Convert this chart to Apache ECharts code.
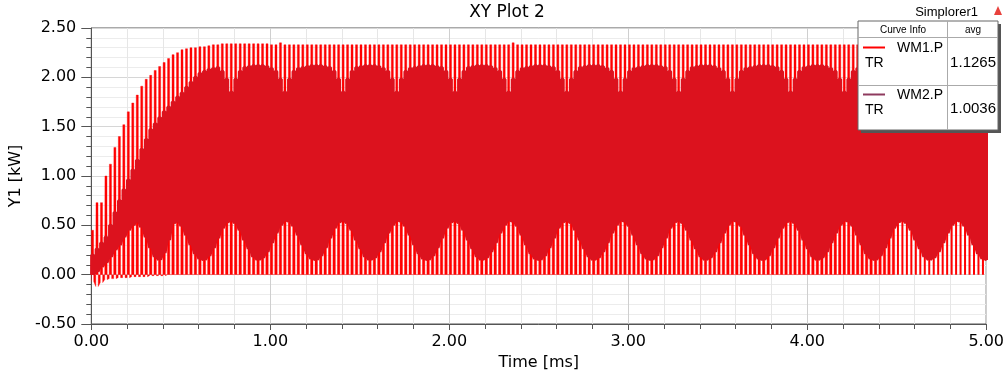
<!DOCTYPE html>
<html>
<head>
<meta charset="utf-8">
<script src="https://cdn.jsdelivr.net/npm/echarts@6/dist/echarts.min.js"></script>
<style>
html, body { margin: 0; padding: 0; background: #fff; }
#chart { width: 1007px; height: 378px; }
</style>
</head>
<body>
<div id="chart"></div>
<script>
// carrier period of the ripple [ms], one entry per cycle in the arrays below
let period = 0.025

// WM1.P peak / valley of each cycle [kW]
let wm1Hi = [
  0.45, 0.73, 0.73, 1.00, 1.12, 1.29, 1.40, 1.52, 1.65, 1.74,
  1.82, 1.91, 1.98, 2.02, 2.07, 2.11, 2.15, 2.19, 2.23, 2.25,
  2.28, 2.29, 2.30, 2.30, 2.31, 2.31, 2.32, 2.33, 2.33, 2.34,
  2.34, 2.34, 2.34, 2.34, 2.34, 2.34, 2.34, 2.34, 2.34, 2.34,
  2.33, 2.33, 2.35, 2.33, 2.33, 2.33, 2.33, 2.33, 2.33, 2.33,
  2.33, 2.33, 2.33, 2.33, 2.33, 2.33, 2.33, 2.33, 2.33, 2.33,
  2.33, 2.33, 2.33, 2.33, 2.33, 2.33, 2.33, 2.33, 2.33, 2.33,
  2.33, 2.33, 2.33, 2.33, 2.33, 2.33, 2.33, 2.33, 2.33, 2.33,
  2.33, 2.33, 2.33, 2.33, 2.33, 2.33, 2.33, 2.33, 2.33, 2.33,
  2.33, 2.33, 2.33, 2.33, 2.35, 2.33, 2.33, 2.33, 2.33, 2.33,
  2.33, 2.33, 2.33, 2.33, 2.33, 2.33, 2.33, 2.33, 2.33, 2.33,
  2.33, 2.33, 2.33, 2.33, 2.33, 2.33, 2.33, 2.33, 2.33, 2.33,
  2.33, 2.33, 2.33, 2.33, 2.33, 2.33, 2.33, 2.33, 2.33, 2.33,
  2.33, 2.33, 2.33, 2.33, 2.33, 2.33, 2.33, 2.33, 2.33, 2.33,
  2.33, 2.33, 2.33, 2.33, 2.33, 2.33, 2.33, 2.33, 2.33, 2.33,
  2.33, 2.33, 2.33, 2.33, 2.33, 2.33, 2.33, 2.33, 2.33, 2.33,
  2.33, 2.33, 2.33, 2.33, 2.33, 2.33, 2.33, 2.33, 2.33, 2.33,
  2.33, 2.33, 2.33, 2.33, 2.33, 2.33, 2.33, 2.33, 2.33, 2.33,
  2.33, 2.33, 2.33, 2.33, 2.33, 2.33, 2.33, 2.33, 2.33, 2.33,
  2.33, 2.33, 2.33, 2.33, 2.33, 2.33, 2.33, 2.33, 2.33, 2.33
]
let wm1Lo = [
  -0.07, -0.12, -0.08, -0.05, -0.04, -0.04, -0.03, -0.03, -0.03, -0.02,
  -0.02, -0.02, -0.02, -0.01, -0.01, -0.01, -0.01, 0, 0, 0,
  0, 0, 0, 0, 0, 0, 0, 0, 0, 0, 0, 0, 0, 0, 0, 0, 0, 0, 0, 0,
  0, 0, 0, 0, 0, 0, 0, 0, 0, 0, 0, 0, 0, 0, 0, 0, 0, 0, 0, 0,
  0, 0, 0, 0, 0, 0, 0, 0, 0, 0, 0, 0, 0, 0, 0, 0, 0, 0, 0, 0,
  0, 0, 0, 0, 0, 0, 0, 0, 0, 0, 0, 0, 0, 0, 0, 0, 0, 0, 0, 0,
  0, 0, 0, 0, 0, 0, 0, 0, 0, 0, 0, 0, 0, 0, 0, 0, 0, 0, 0, 0,
  0, 0, 0, 0, 0, 0, 0, 0, 0, 0, 0, 0, 0, 0, 0, 0, 0, 0, 0, 0,
  0, 0, 0, 0, 0, 0, 0, 0, 0, 0, 0, 0, 0, 0, 0, 0, 0, 0, 0, 0,
  0, 0, 0, 0, 0, 0, 0, 0, 0, 0, 0, 0, 0, 0, 0, 0, 0, 0, 0, 0
]

// WM2.P peak / valley of each cycle [kW]
let wm2Hi = [
  0.20, 0.26, 0.32, 0.38, 0.50, 0.63, 0.75, 0.86, 0.96, 1.06,
  1.16, 1.27, 1.37, 1.47, 1.53, 1.59, 1.65, 1.70, 1.75,
  1.80, 1.84, 1.90, 1.95, 2.00, 2.04, 2.06, 2.08, 2.09, 2.10, 2.06, 1.98, 1.85,
  1.98, 2.06, 2.10, 2.11, 2.12, 2.12, 2.12, 2.11, 2.09, 2.06, 1.98, 1.85,
  1.98, 2.06, 2.09, 2.10, 2.11, 2.12, 2.12, 2.12, 2.11, 2.10, 2.06, 1.98, 1.85,
  1.98, 2.06, 2.10, 2.11, 2.12, 2.12, 2.12, 2.11, 2.09, 2.06, 1.98, 1.85,
  1.98, 2.06, 2.09, 2.10, 2.11, 2.12, 2.12, 2.12, 2.11, 2.10, 2.06, 1.98, 1.85,
  1.98, 2.06, 2.10, 2.11, 2.12, 2.12, 2.12, 2.11, 2.09, 2.06, 1.98, 1.85,
  1.98, 2.06, 2.09, 2.10, 2.11, 2.12, 2.12, 2.12, 2.11, 2.10, 2.06, 1.98, 1.85,
  1.98, 2.06, 2.10, 2.11, 2.12, 2.12, 2.12, 2.11, 2.09, 2.06, 1.98, 1.85,
  1.98, 2.06, 2.09, 2.10, 2.11, 2.12, 2.12, 2.12, 2.11, 2.10, 2.06, 1.98, 1.85,
  1.98, 2.06, 2.10, 2.11, 2.12, 2.12, 2.12, 2.11, 2.09, 2.06, 1.98, 1.85,
  1.98, 2.06, 2.09, 2.10, 2.11, 2.12, 2.12, 2.12, 2.11, 2.10, 2.06, 1.98, 1.85,
  1.98, 2.06, 2.10, 2.11, 2.12, 2.12, 2.12, 2.11, 2.09, 2.06, 1.98, 1.85,
  1.98, 2.06, 2.09, 2.10, 2.11, 2.12, 2.12, 2.12, 2.11, 2.10, 2.06, 1.98, 1.85,
  1.98, 2.06, 2.10, 2.11, 2.12, 2.12, 2.12, 2.11, 2.09, 2.06, 1.98, 1.85,
  1.98, 2.06, 2.09, 2.10, 2.11, 2.12, 2.12, 2.12, 2.11, 2.10, 2.06, 1.98, 1.85,
  1.98, 2.06, 2.10, 2.11, 2.12, 2.12, 2.12, 2.11, 2.09, 2.06, 1.98, 1.85,
  1.98, 2.06, 2.09, 2.10, 2.11, 2.12
]
let wm2Lo = [
  0.00, 0.03, 0.08, 0.12, 0.18, 0.25, 0.30, 0.38, 0.45, 0.50,
  0.54, 0.48, 0.38, 0.27, 0.18, 0.15, 0.22, 0.35, 0.52,
  0.54, 0.49, 0.40, 0.30, 0.21, 0.16, 0.15, 0.19, 0.27, 0.37, 0.47, 0.53, 0.55,
  0.52, 0.45, 0.35, 0.26, 0.18, 0.15, 0.17, 0.23, 0.32, 0.42, 0.50, 0.55,
  0.54, 0.49, 0.40, 0.30, 0.21, 0.16, 0.15, 0.19, 0.27, 0.37, 0.47, 0.53, 0.55,
  0.52, 0.45, 0.35, 0.26, 0.18, 0.15, 0.17, 0.23, 0.32, 0.42, 0.50, 0.55,
  0.54, 0.49, 0.40, 0.30, 0.21, 0.16, 0.15, 0.19, 0.27, 0.37, 0.47, 0.53, 0.55,
  0.52, 0.45, 0.35, 0.26, 0.18, 0.15, 0.17, 0.23, 0.32, 0.42, 0.50, 0.55,
  0.54, 0.49, 0.40, 0.30, 0.21, 0.16, 0.15, 0.19, 0.27, 0.37, 0.47, 0.53, 0.55,
  0.52, 0.45, 0.35, 0.26, 0.18, 0.15, 0.17, 0.23, 0.32, 0.42, 0.50, 0.55,
  0.54, 0.49, 0.40, 0.30, 0.21, 0.16, 0.15, 0.19, 0.27, 0.37, 0.47, 0.53, 0.55,
  0.52, 0.45, 0.35, 0.26, 0.18, 0.15, 0.17, 0.23, 0.32, 0.42, 0.50, 0.55,
  0.54, 0.49, 0.40, 0.30, 0.21, 0.16, 0.15, 0.19, 0.27, 0.37, 0.47, 0.53, 0.55,
  0.52, 0.45, 0.35, 0.26, 0.18, 0.15, 0.17, 0.23, 0.32, 0.42, 0.50, 0.55,
  0.54, 0.49, 0.40, 0.30, 0.21, 0.16, 0.15, 0.19, 0.27, 0.37, 0.47, 0.53, 0.55,
  0.52, 0.45, 0.35, 0.26, 0.18, 0.15, 0.17, 0.23, 0.32, 0.42, 0.50, 0.55,
  0.54, 0.49, 0.40, 0.30, 0.21, 0.16, 0.15, 0.19, 0.27, 0.37, 0.47, 0.53, 0.55,
  0.52, 0.45, 0.35, 0.26, 0.18, 0.15, 0.17, 0.23, 0.32, 0.42, 0.50, 0.55,
  0.54, 0.49, 0.40, 0.30, 0.21, 0.16
]

let seriesNames = ['WM1.P', 'WM2.P']
let seriesAvg = ['1.1265', '1.0036']
let xTicks = [0, 1, 2, 3, 4, 5]
let yTicks = [-0.5, 0, 0.5, 1, 1.5, 2, 2.5]

// WM1: flat-topped pulse each cycle (filled down to 0)
let wm1Data = []
for (let k = 0; k < wm1Hi.length; k++) {
  let t0 = k * period
  wm1Data.push([t0, wm1Lo[k]])
  wm1Data.push([t0 + 0.05 * period, wm1Hi[k]])
  wm1Data.push([t0 + 0.5 * period, wm1Hi[k]])
  wm1Data.push([t0 + 0.55 * period, wm1Lo[k]])
}
// WM2: square-ish pulse, steep edges every half cycle
let wm2Data = []
for (let k = 0; k < wm2Hi.length; k++) {
  let t0 = k * period
  wm2Data.push([t0 + 0.02 * period, wm2Lo[k]])
  wm2Data.push([t0 + 0.04 * period, wm2Hi[k]])
  wm2Data.push([t0 + 0.52 * period, wm2Hi[k]])
  wm2Data.push([t0 + 0.54 * period, wm2Lo[k]])
}

let font = '"DejaVu Sans", sans-serif'
let lfont = '"Liberation Sans", Arial, sans-serif'

let chart = echarts.init(document.getElementById('chart'), null, { renderer: 'canvas' })
chart.setOption({
  animation: false,
  backgroundColor: '#fff',
  grid: {
    left: 87, right: 20, top: 28, bottom: 54,
    show: true, borderColor: '#555', borderWidth: 1, backgroundColor: 'transparent'
  },
  xAxis: {
    type: 'value',
    min: xTicks[0], max: xTicks[xTicks.length - 1], interval: 1,
    name: 'Time [ms]',
    nameLocation: 'middle',
    nameGap: 28,
    nameTextStyle: { fontFamily: font, fontSize: 16, color: '#000' },
    axisLine: { show: true, onZero: false, lineStyle: { color: '#555', width: 1 } },
    axisTick: { show: true, length: 6, lineStyle: { color: '#555' } },
    minorTick: { show: true, splitNumber: 5, length: 5, lineStyle: { color: '#555' } },
    splitLine: { show: true, lineStyle: { color: '#cfcfcf', width: 1 } },
    minorSplitLine: { show: true, lineStyle: { color: '#e6e6e6', width: 1 } },
    axisLabel: {
      margin: 10, fontFamily: font, fontSize: 16, color: '#000',
      formatter: v => v.toFixed(2)
    }
  },
  yAxis: {
    type: 'value',
    min: yTicks[0], max: yTicks[yTicks.length - 1], interval: 0.5,
    name: 'Y1 [kW]',
    nameLocation: 'middle',
    nameGap: 56,
    nameRotate: 90,
    nameTextStyle: { fontFamily: font, fontSize: 16, color: '#000' },
    axisLine: { show: true, onZero: false, lineStyle: { color: '#555', width: 1 } },
    axisTick: { show: true, length: 10, lineStyle: { color: '#555' } },
    minorTick: { show: true, splitNumber: 5, length: 5, lineStyle: { color: '#555' } },
    splitLine: { show: true, lineStyle: { color: '#d6d6d6', width: 1 } },
    minorSplitLine: { show: true, lineStyle: { color: '#ececec', width: 1 } },
    axisLabel: {
      margin: 15, fontFamily: font, fontSize: 16, color: '#000',
      formatter: v => v.toFixed(2)
    }
  },
  series: [
    {
      name: seriesNames[0],
      type: 'line',
      z: 2,
      data: wm1Data,
      showSymbol: false,
      symbol: 'none',
      clip: true,
      lineStyle: { color: '#ff0000', width: 0.4 },
      areaStyle: { color: '#ff0000', opacity: 1 },
      itemStyle: { color: '#ff0000' }
    },
    {
      name: seriesNames[1],
      type: 'line',
      z: 4,
      data: wm2Data,
      showSymbol: false,
      symbol: 'none',
      clip: true,
      lineStyle: { color: '#dc121e', width: 2.6 },
      itemStyle: { color: '#dc121e' }
    }
  ],
  graphic: [
    {
      type: 'text', x: 507, y: 13, z: 10,
      style: { text: 'XY Plot 2', font: '17px ' + font, fill: '#000', align: 'center', verticalAlign: 'middle' }
    },
    {
      type: 'text', x: 978, y: 12, z: 10,
      style: { text: 'Simplorer1', font: '13px ' + lfont, fill: '#000', align: 'right', verticalAlign: 'middle' }
    },
    {
      type: 'polygon', z: 10,
      shape: { points: [[994, 15], [1002, 15], [998, 6]] },
      style: { fill: '#e8413c' }
    },
    {
      type: 'group', z: 100,
      children: [
        { type: 'rect', z: 100, shape: { x: 861, y: 24, width: 140, height: 109 }, style: { fill: '#555' } },
        { type: 'rect', z: 101, shape: { x: 858, y: 21, width: 140, height: 109 }, style: { fill: '#fff', stroke: '#666', lineWidth: 1 } },
        { type: 'line', z: 102, shape: { x1: 858, y1: 37.5, x2: 998, y2: 37.5 }, style: { stroke: '#aaa', lineWidth: 1 } },
        { type: 'line', z: 102, shape: { x1: 858, y1: 85.5, x2: 998, y2: 85.5 }, style: { stroke: '#aaa', lineWidth: 1 } },
        { type: 'line', z: 102, shape: { x1: 947.5, y1: 21, x2: 947.5, y2: 130 }, style: { stroke: '#aaa', lineWidth: 1 } },
        { type: 'text', z: 103, x: 903, y: 30, style: { text: 'Curve Info', font: '10px ' + lfont, fill: '#000', align: 'center', verticalAlign: 'middle' } },
        { type: 'text', z: 103, x: 973, y: 30, style: { text: 'avg', font: '10px ' + lfont, fill: '#000', align: 'center', verticalAlign: 'middle' } },
        { type: 'line', z: 103, shape: { x1: 863, y1: 47.5, x2: 885, y2: 47.5 }, style: { stroke: '#ff0000', lineWidth: 2 } },
        { type: 'text', z: 103, x: 943, y: 48, style: { text: seriesNames[0], font: '14px ' + lfont, fill: '#000', align: 'right', verticalAlign: 'middle' } },
        { type: 'text', z: 103, x: 865, y: 63, style: { text: 'TR', font: '14px ' + lfont, fill: '#000', align: 'left', verticalAlign: 'middle' } },
        { type: 'text', z: 103, x: 996, y: 63, style: { text: seriesAvg[0], font: '15px ' + lfont, fill: '#000', align: 'right', verticalAlign: 'middle' } },
        { type: 'line', z: 103, shape: { x1: 863, y1: 94.5, x2: 885, y2: 94.5 }, style: { stroke: '#8e3a5e', lineWidth: 2 } },
        { type: 'text', z: 103, x: 943, y: 95, style: { text: seriesNames[1], font: '14px ' + lfont, fill: '#000', align: 'right', verticalAlign: 'middle' } },
        { type: 'text', z: 103, x: 865, y: 110, style: { text: 'TR', font: '14px ' + lfont, fill: '#000', align: 'left', verticalAlign: 'middle' } },
        { type: 'text', z: 103, x: 996, y: 109, style: { text: seriesAvg[1], font: '15px ' + lfont, fill: '#000', align: 'right', verticalAlign: 'middle' } }
      ]
    }
  ]
})
</script>
</body>
</html>
